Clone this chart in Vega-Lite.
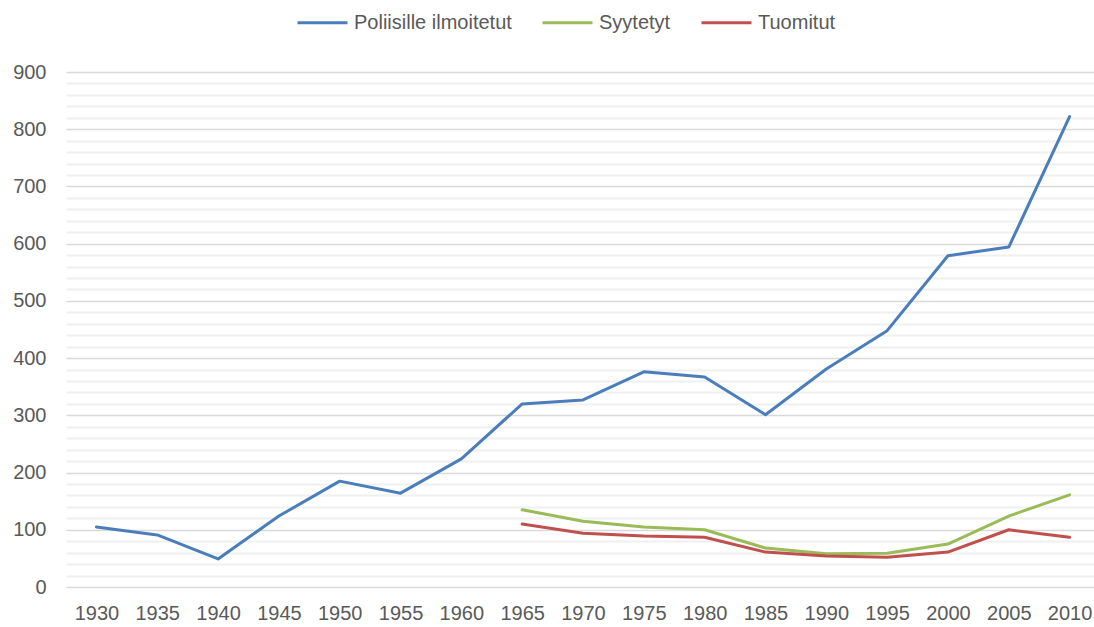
{
  "$schema": "https://vega.github.io/schema/vega-lite/v6.json",
  "width": 1034,
  "height": 515,
  "autosize": "none",
  "padding": {"left": 66, "top": 72, "right": 0, "bottom": 40},
  "background": "white",
  "config": {
    "view": {"stroke": null},
    "font": "Liberation Sans",
    "axis": {"labelFont": "Liberation Sans", "labelColor": "#595959", "labelFontSize": 20},
    "legend": {"labelFont": "Liberation Sans", "labelColor": "#595959", "labelFontSize": 20}
  },
  "data": {
    "values": [
      {"year": "1930", "series": "Poliisille ilmoitetut", "value": 105},
      {"year": "1935", "series": "Poliisille ilmoitetut", "value": 91},
      {"year": "1940", "series": "Poliisille ilmoitetut", "value": 49},
      {"year": "1945", "series": "Poliisille ilmoitetut", "value": 124},
      {"year": "1950", "series": "Poliisille ilmoitetut", "value": 185},
      {"year": "1955", "series": "Poliisille ilmoitetut", "value": 164},
      {"year": "1960", "series": "Poliisille ilmoitetut", "value": 224},
      {"year": "1965", "series": "Poliisille ilmoitetut", "value": 320},
      {"year": "1970", "series": "Poliisille ilmoitetut", "value": 327},
      {"year": "1975", "series": "Poliisille ilmoitetut", "value": 376},
      {"year": "1980", "series": "Poliisille ilmoitetut", "value": 367},
      {"year": "1985", "series": "Poliisille ilmoitetut", "value": 301},
      {"year": "1990", "series": "Poliisille ilmoitetut", "value": 381},
      {"year": "1995", "series": "Poliisille ilmoitetut", "value": 448},
      {"year": "2000", "series": "Poliisille ilmoitetut", "value": 579},
      {"year": "2005", "series": "Poliisille ilmoitetut", "value": 594},
      {"year": "2010", "series": "Poliisille ilmoitetut", "value": 822},
      {"year": "1965", "series": "Syytetyt", "value": 135},
      {"year": "1970", "series": "Syytetyt", "value": 115},
      {"year": "1975", "series": "Syytetyt", "value": 105},
      {"year": "1980", "series": "Syytetyt", "value": 100},
      {"year": "1985", "series": "Syytetyt", "value": 68},
      {"year": "1990", "series": "Syytetyt", "value": 58},
      {"year": "1995", "series": "Syytetyt", "value": 59},
      {"year": "2000", "series": "Syytetyt", "value": 75},
      {"year": "2005", "series": "Syytetyt", "value": 124},
      {"year": "2010", "series": "Syytetyt", "value": 161},
      {"year": "1965", "series": "Tuomitut", "value": 110},
      {"year": "1970", "series": "Tuomitut", "value": 94},
      {"year": "1975", "series": "Tuomitut", "value": 89},
      {"year": "1980", "series": "Tuomitut", "value": 87},
      {"year": "1985", "series": "Tuomitut", "value": 61},
      {"year": "1990", "series": "Tuomitut", "value": 54},
      {"year": "1995", "series": "Tuomitut", "value": 52},
      {"year": "2000", "series": "Tuomitut", "value": 61},
      {"year": "2005", "series": "Tuomitut", "value": 100},
      {"year": "2010", "series": "Tuomitut", "value": 87}
    ]
  },
  "mark": {"type": "line", "strokeWidth": 3, "strokeCap": "round", "strokeJoin": "round"},
  "encoding": {
    "x": {
      "field": "year", "type": "ordinal",
      "scale": {"type": "point", "padding": 0.5},
      "axis": {"title": null, "labelAngle": 0, "ticks": false, "domain": false, "grid": false, "labelPadding": 16}
    },
    "y": {
      "field": "value", "type": "quantitative",
      "scale": {"domain": [0, 900], "nice": false},
      "axis": {
        "title": null,
        "values": [0,20,40,60,80,100,120,140,160,180,200,220,240,260,280,300,320,340,360,380,400,420,440,460,480,500,520,540,560,580,600,620,640,660,680,700,720,740,760,780,800,820,840,860,880,900],
        "labelExpr": "datum.value % 100 === 0 ? datum.value : ''",
        "ticks": false, "domain": false, "labelPadding": 20,
        "grid": true,
        "gridWidth": {"condition": {"test": "datum.value % 100 === 0", "value": 1.5}, "value": 2},
        "gridColor": {"condition": {"test": "datum.value % 100 === 0", "value": "#d9d9d9"}, "value": "#f0f0f0"}
      }
    },
    "color": {
      "field": "series", "type": "nominal",
      "scale": {"domain": ["Poliisille ilmoitetut", "Syytetyt", "Tuomitut"], "range": ["#4a7ebb", "#9bbb59", "#c0504d"]},
      "legend": {
        "title": null, "orient": "none", "direction": "horizontal",
        "legendX": 230, "legendY": -76,
        "symbolType": "stroke", "symbolSize": 2500, "symbolStrokeWidth": 3,
        "labelOffset": 5, "columnPadding": 24
      }
    }
  }
}
